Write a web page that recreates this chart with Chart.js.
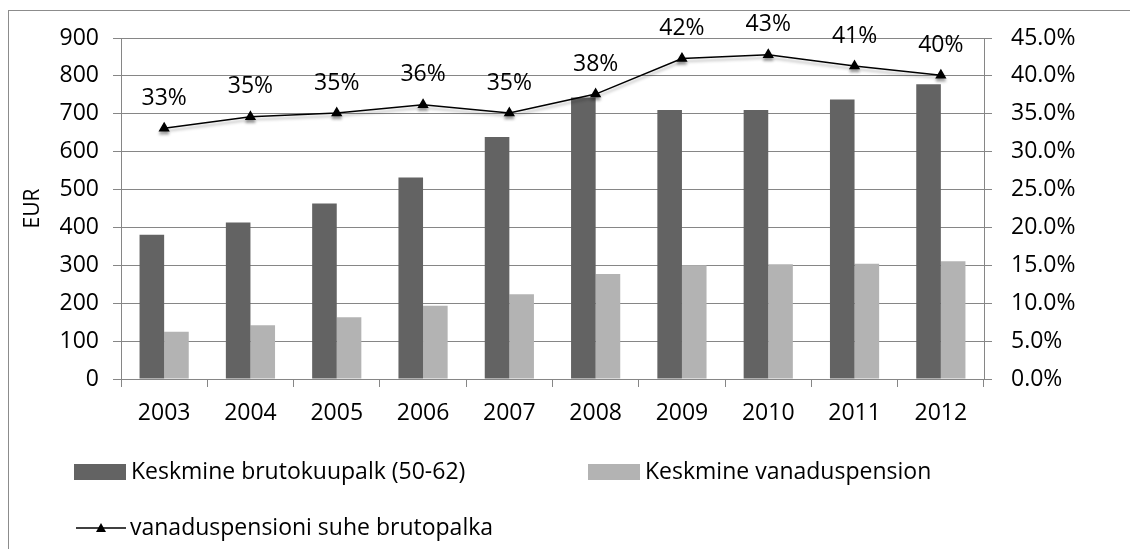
<!DOCTYPE html>
<html>
<head>
<meta charset="utf-8">
<script src="https://cdn.jsdelivr.net/npm/chart.js@4/dist/chart.umd.min.js"></script>
<style>
  html, body { margin: 0; padding: 0; background: #ffffff; }
  #wrap { width: 1130px; height: 549px; }
</style>
</head>
<body>
<div id="wrap"><canvas id="c" width="1130" height="549"></canvas></div>
<script>
const years = ['2003', '2004', '2005', '2006', '2007', '2008', '2009', '2010', '2011', '2012'];
const wage = [381, 413, 463, 532, 639, 743, 710, 710, 738, 778];
const pension = [125, 142, 163, 193, 224, 277, 300, 303, 304, 311];
const ratio = [33.1, 34.6, 35.1, 36.2, 35.1, 37.6, 42.3, 42.8, 41.3, 40.1];
const seriesNames = ['Keskmine brutokuupalk (50-62)', 'Keskmine vanaduspension', 'vanaduspensioni suhe brutopalka'];
const axisTitle = 'EUR';

const FONT = "'Open Sans', sans-serif";
const GRID = '#868686';

const frame = {
  id: 'frame',
  beforeDraw(chart) {
    const ctx = chart.ctx;
    ctx.save();
    ctx.fillStyle = '#ffffff';
    ctx.fillRect(0, 0, chart.width, chart.height);
    ctx.strokeStyle = '#8c8c8c';
    ctx.lineWidth = 1;
    ctx.strokeRect(8.5, 10.5, chart.width + 10, chart.height + 10);
    ctx.restore();
  }
};

const lineShadow = {
  id: 'lineShadow',
  beforeDatasetDraw(chart, args) {
    if (chart.data.datasets[args.index].type === 'line') {
      const ctx = chart.ctx;
      ctx.save();
      ctx.shadowColor = 'rgba(0,0,0,0.3)';
      ctx.shadowBlur = 3;
      ctx.shadowOffsetY = 3;
    }
  },
  afterDatasetDraw(chart, args) {
    if (chart.data.datasets[args.index].type === 'line') {
      chart.ctx.restore();
    }
  }
};

const labelsPlugin = {
  id: 'pointLabels',
  afterDatasetsDraw(chart) {
    const ctx = chart.ctx;
    chart.data.datasets.forEach((ds, i) => {
      if (ds.type !== 'line') return;
      const meta = chart.getDatasetMeta(i);
      ctx.save();
      ctx.font = '23px ' + FONT;
      ctx.fillStyle = '#000';
      ctx.textAlign = 'center';
      ctx.textBaseline = 'middle';
      meta.data.forEach((pt, j) => {
        ctx.fillText(Math.round(ds.data[j]) + '%', pt.x, pt.y - 30);
      });
      ctx.restore();
    });
  }
};

const customLegend = {
  id: 'customLegend',
  afterDraw(chart) {
    const ctx = chart.ctx;
    const ds = chart.data.datasets;
    ctx.save();
    ctx.font = '23px ' + FONT;
    ctx.fillStyle = '#000';
    ctx.textBaseline = 'middle';
    // item 1
    ctx.fillStyle = ds[1].backgroundColor;
    ctx.fillRect(74, 464, 52, 16);
    ctx.fillStyle = '#000';
    ctx.fillText(ds[1].label, 131, 472);
    // item 2
    ctx.fillStyle = ds[2].backgroundColor;
    ctx.fillRect(588, 464, 52, 16);
    ctx.fillStyle = '#000';
    ctx.fillText(ds[2].label, 645, 472);
    // item 3 (line)
    ctx.strokeStyle = '#000';
    ctx.lineWidth = 1.5;
    ctx.beginPath();
    ctx.moveTo(76, 528);
    ctx.lineTo(126, 528);
    ctx.stroke();
    ctx.beginPath();
    ctx.moveTo(101, 523);
    ctx.lineTo(106, 532);
    ctx.lineTo(96, 532);
    ctx.closePath();
    ctx.fill();
    ctx.fillText(ds[0].label, 130, 528);
    ctx.restore();
  }
};

Chart.defaults.font.family = FONT;
Chart.defaults.color = '#000';

new Chart(document.getElementById('c'), {
  data: {
    labels: years,
    datasets: [
      {
        type: 'line',
        label: seriesNames[2],
        data: ratio,
        yAxisID: 'y2',
        borderColor: '#000',
        backgroundColor: '#000',
        borderWidth: 1.5,
        pointStyle: 'triangle',
        pointRadius: 5,
        pointBackgroundColor: '#000',
        pointBorderColor: '#000',
        tension: 0,
        order: 0
      },
      {
        type: 'bar',
        label: seriesNames[0],
        data: wage,
        yAxisID: 'y',
        backgroundColor: '#636363',
        categoryPercentage: 0.57,
        barPercentage: 1.0,
        order: 1
      },
      {
        type: 'bar',
        label: seriesNames[1],
        data: pension,
        yAxisID: 'y',
        backgroundColor: '#b3b3b3',
        categoryPercentage: 0.57,
        barPercentage: 1.0,
        order: 1
      }
    ]
  },
  options: {
    responsive: false,
    animation: false,
    layout: { padding: { left: 0, right: 0, top: 38, bottom: 0 } },
    plugins: {
      legend: { display: false },
      tooltip: { enabled: false }
    },
    scales: {
      x: {
        offset: true,
        grid: { display: true, drawOnChartArea: false, drawTicks: true, tickLength: 8, color: GRID, offset: true },
        border: { display: true, color: GRID },
        ticks: { font: { size: 23 }, padding: 13, maxRotation: 0 },
        afterFit(scale) { scale.height = 170; }
      },
      y: {
        position: 'left',
        min: 0, max: 900,
        ticks: { stepSize: 100, font: { size: 23 }, padding: 14 },
        grid: { color: GRID, tickLength: 8, drawTicks: true },
        border: { display: true, color: GRID },
        title: { display: true, text: axisTitle, font: { size: 21 }, padding: { top: 20, bottom: 0 } },
        afterFit(scale) { scale.width = 121; }
      },
      y2: {
        position: 'right',
        min: 0, max: 45,
        ticks: { stepSize: 5, font: { size: 23 }, padding: 19, callback: v => v.toFixed(1) + '%' },
        grid: { drawOnChartArea: false, color: GRID, tickLength: 8, drawTicks: true },
        border: { display: true, color: GRID },
        afterFit(scale) { scale.width = 146; }
      }
    }
  },
  plugins: [frame, lineShadow, labelsPlugin, customLegend]
});
</script>
</body>
</html>
